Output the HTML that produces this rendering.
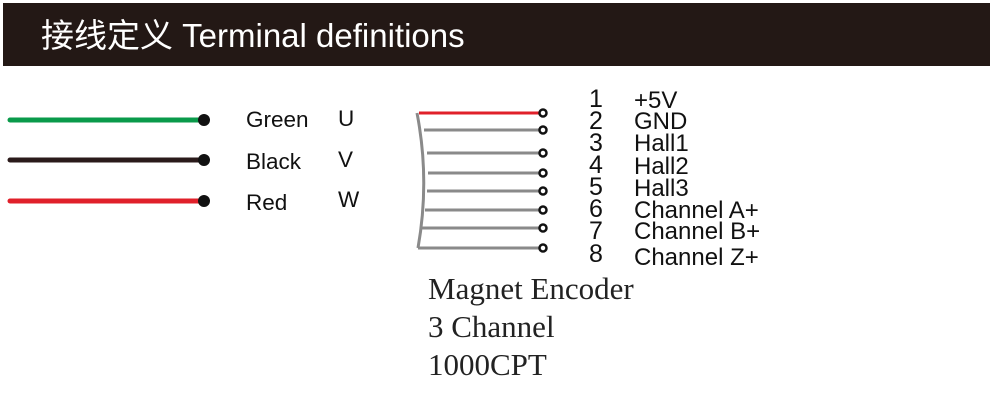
<!DOCTYPE html>
<html><head><meta charset="utf-8"><style>
body{margin:0;width:992px;height:410px;background:#fff;position:relative;overflow:hidden;font-family:"Liberation Sans","Noto Sans CJK SC",sans-serif}
.hdr{position:absolute;left:3px;top:3px;width:987px;height:63px;background:#231815;color:#fff;font-size:33px;line-height:66px;padding-left:38px;box-sizing:border-box}
.t{position:absolute;font-size:22.5px;color:#111;line-height:22px}
.n{position:absolute;font-size:25px;color:#111;line-height:22px}
.l{position:absolute;font-size:24px;color:#111;line-height:22px}
.s{position:absolute;font-family:"Liberation Serif",serif;font-size:31px;color:#222;left:428px}
</style></head><body>
<div class="hdr">接线定义 Terminal definitions</div>
<svg width="992" height="410" style="position:absolute;left:0;top:0">
<g stroke-width="5" stroke-linecap="round">
<line x1="10" y1="120" x2="202" y2="120" stroke="#0a9a4a"/>
<line x1="10" y1="160" x2="202" y2="160" stroke="#2a1a1a"/>
<line x1="10" y1="201" x2="202" y2="201" stroke="#e0202a"/>
</g>
<circle cx="204" cy="120" r="6" fill="#111"/>
<circle cx="204" cy="160" r="6" fill="#111"/>
<circle cx="204" cy="201" r="6" fill="#111"/>
<g fill="none" stroke="#8a8a8a" stroke-width="3">
<path d="M417 113 Q430 180 418 248"/>
<line x1="424" y1="130" x2="539" y2="130"/>
<line x1="427" y1="153" x2="539" y2="153"/>
<line x1="428" y1="173" x2="539" y2="173"/>
<line x1="427" y1="191" x2="539" y2="191"/>
<line x1="425" y1="210" x2="539" y2="210"/>
<line x1="422" y1="228" x2="539" y2="228"/>
<line x1="418" y1="248" x2="539" y2="248"/>
</g>
<line x1="419" y1="113" x2="539" y2="113" stroke="#e0202a" stroke-width="3"/>
<g fill="#fff" stroke="#111" stroke-width="2.5">
<circle cx="543" cy="113" r="3.5"/><circle cx="543" cy="130" r="3.5"/><circle cx="543" cy="153" r="3.5"/><circle cx="543" cy="173" r="3.5"/><circle cx="543" cy="191" r="3.5"/><circle cx="543" cy="210" r="3.5"/><circle cx="543" cy="228" r="3.5"/><circle cx="543" cy="248" r="3.5"/>
</g>
</svg>
<div class="t" style="left:246px;top:109px">Green</div><div class="t" style="left:338px;top:108px">U</div>
<div class="t" style="left:246px;top:151px">Black</div><div class="t" style="left:338px;top:149px">V</div>
<div class="t" style="left:246px;top:192px">Red</div><div class="t" style="left:338px;top:189px">W</div>
<div class="n" style="left:589px;top:88px">1</div><div class="l" style="left:634px;top:90px">+5V</div>
<div class="n" style="left:589px;top:110px">2</div><div class="l" style="left:634px;top:111px">GND</div>
<div class="n" style="left:589px;top:132px">3</div><div class="l" style="left:634px;top:133px">Hall1</div>
<div class="n" style="left:589px;top:154px">4</div><div class="l" style="left:634px;top:156px">Hall2</div>
<div class="n" style="left:589px;top:176px">5</div><div class="l" style="left:634px;top:178px">Hall3</div>
<div class="n" style="left:589px;top:198px">6</div><div class="l" style="left:634px;top:200px">Channel A+</div>
<div class="n" style="left:589px;top:220px">7</div><div class="l" style="left:634px;top:221px">Channel B+</div>
<div class="n" style="left:589px;top:243px">8</div><div class="l" style="left:634px;top:247px">Channel Z+</div>
<div class="s" style="top:271px">Magnet Encoder</div>
<div class="s" style="top:309px">3 Channel</div>
<div class="s" style="top:347px">1000CPT</div>
</body></html>
